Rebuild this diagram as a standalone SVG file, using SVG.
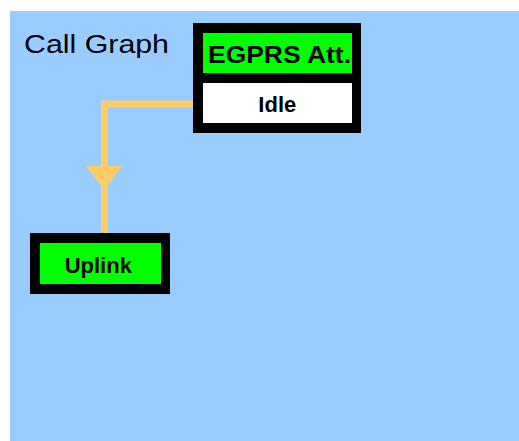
<svg xmlns="http://www.w3.org/2000/svg" width="519" height="441" viewBox="0 0 519 441">
<style>
.lbl{font-family:"Liberation Sans",Arial,sans-serif;fill:#000}
.conn{fill:none;stroke:#ffcc66;stroke-width:7}
</style>
<rect x="0" y="0" width="519" height="441" fill="#ffffff"/>
<rect x="10" y="11" width="509" height="430" fill="#99ccff"/>
<text class="lbl" x="24" y="53.3" font-size="25" textLength="145" lengthAdjust="spacingAndGlyphs">Call Graph</text>
<g id="connectors">
<path class="conn" d="M193,104 H104.5 V233"/>
<polygon points="86,166 122,166 104.5,190" fill="#ffcc66"/>
</g>
<g id="egprs">
<rect x="193" y="23" width="168" height="110" fill="#000"/>
<rect x="203" y="33" width="149" height="40" fill="#00ff00"/>
<rect x="203" y="83" width="149" height="40" fill="#ffffff"/>
<text class="lbl" x="208" y="63.3" font-size="23" font-weight="bold" textLength="143" lengthAdjust="spacingAndGlyphs">EGPRS Att.</text>
<text class="lbl" x="277.3" y="111.7" font-size="22" font-weight="bold" text-anchor="middle">Idle</text>
</g>
<g id="uplink">
<rect x="30" y="233" width="140" height="61" fill="#000"/>
<rect x="40" y="243" width="121" height="41" fill="#00ff00"/>
<text class="lbl" x="98.3" y="273.3" font-size="22" font-weight="bold" text-anchor="middle">Uplink</text>
</g>
</svg>
